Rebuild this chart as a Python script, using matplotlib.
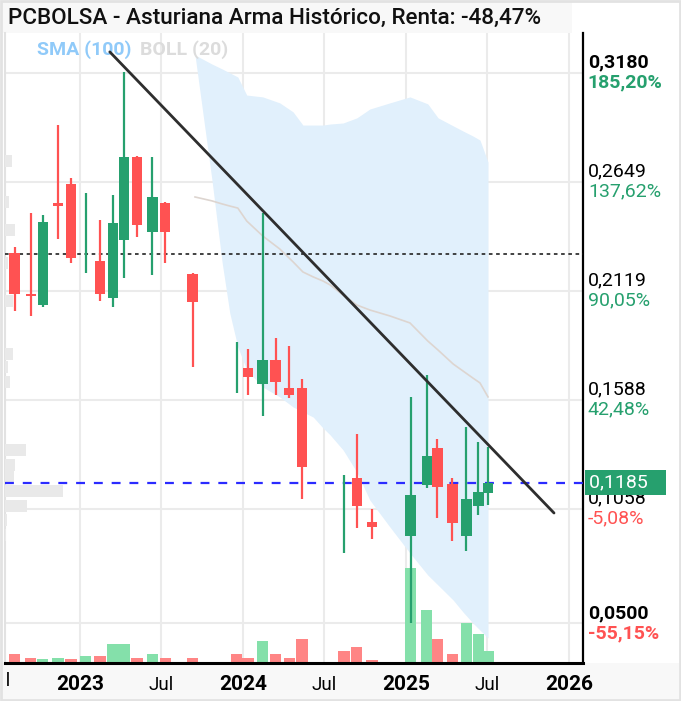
import matplotlib
matplotlib.use('Agg')
import matplotlib.pyplot as plt
import matplotlib.dates as mdates
from matplotlib.patches import Rectangle
from matplotlib.transforms import blended_transform_factory, Bbox, TransformedBbox
import numpy as np

plt.rcParams['font.family'] = ['Roboto', 'DejaVu Sans']

# ---------------- data ----------------
candle_dates = ['2022-08-07', '2022-09-12', '2022-10-09', '2022-11-12', '2022-12-11',
                '2023-01-13', '2023-02-14', '2023-03-15', '2023-04-09', '2023-05-08',
                '2023-06-11', '2023-07-10', '2023-09-10', '2023-12-18', '2024-01-12',
                '2024-02-14', '2024-03-14', '2024-04-13', '2024-05-12', '2024-08-14',
                '2024-09-12', '2024-10-16', '2025-01-11', '2025-02-16', '2025-03-11',
                '2025-04-14', '2025-05-15', '2025-06-11', '2025-07-03']
opens = [0.2302, 0.2103, 0.2049, 0.2546, 0.2638, 0.2285, 0.2264, 0.2083, 0.2366, 0.2770,
         0.2405, 0.2546, 0.2200, 0.1700, 0.1743, 0.1665, 0.1782, 0.1645, 0.1645, 0.1155,
         0.1207, 0.0993, 0.0925, 0.1173, 0.1353, 0.1178, 0.0925, 0.1071, 0.1134]
highs = [0.2332, 0.2497, 0.2487, 0.2925, 0.2667, 0.2595, 0.2463, 0.2585, 0.3183, 0.2775,
         0.2770, 0.2550, 0.2203, 0.1869, 0.1835, 0.2497, 0.1889, 0.1850, 0.1689, 0.1222,
         0.1421, 0.1056, 0.1602, 0.1709, 0.1397, 0.1207, 0.1456, 0.1383, 0.1358]
lows = [0.2020, 0.1996, 0.2040, 0.2371, 0.2254, 0.2205, 0.2069, 0.2040, 0.2181, 0.2380,
        0.2195, 0.2254, 0.1748, 0.1621, 0.1611, 0.1509, 0.1611, 0.1597, 0.1105, 0.0842,
        0.0964, 0.0910, 0.0502, 0.1159, 0.1013, 0.0901, 0.0852, 0.1027, 0.1076]
closes = [0.2103, 0.2093, 0.2453, 0.2531, 0.2278, 0.2285, 0.2103, 0.2448, 0.2770, 0.2439,
          0.2575, 0.2405, 0.2064, 0.1700, 0.1699, 0.1782, 0.1675, 0.1611, 0.1261, 0.1155,
          0.1071, 0.0969, 0.1125, 0.1314, 0.1163, 0.0988, 0.1105, 0.1139, 0.1185]
volumes = [9, 5, 4, 5, 4, 7, 7, 19, 19, 5, 9, 5, 5, 9, 5, 22, 9, 5, 24, 12, 16, 3,
           95, 53, 24, 9, 40, 29, 12]

band_dates = ['2023-09-15', '2023-10-23', '2023-11-15', '2023-12-02', '2023-12-20',
              '2024-01-09', '2024-02-14', '2024-03-23', '2024-04-22', '2024-05-14',
              '2024-06-06', '2024-06-28', '2024-07-14', '2024-08-12', '2024-09-12',
              '2024-10-11', '2024-11-25', '2025-01-09', '2025-02-18', '2025-03-13',
              '2025-04-16', '2025-05-08', '2025-05-30', '2025-06-15', '2025-07-03']
band_upper = [0.3266, 0.3222, 0.3198, 0.3179, 0.3159, 0.3071, 0.3062, 0.3033, 0.2989, 0.2925,
              0.2925, 0.2925, 0.2930, 0.2935, 0.2960, 0.3003, 0.3033, 0.3062, 0.3028, 0.2960,
              0.2921, 0.2896, 0.2872, 0.2852, 0.2745]
band_lower = [0.3266, 0.2658, 0.2254, 0.2010, 0.1845, 0.1733, 0.1650, 0.1602, 0.1553, 0.1529,
              0.1504, 0.1451, 0.1417, 0.1344, 0.1236, 0.1100, 0.0969, 0.0842, 0.0735, 0.0686,
              0.0613, 0.0555, 0.0502, 0.0467, 0.0429]
band_mid = [0.2575, 0.2556, 0.2541, 0.2531, 0.2521, 0.2458, 0.2385, 0.2322, 0.2259, 0.2210,
            0.2186, 0.2166, 0.2147, 0.2098, 0.2049, 0.2025, 0.1996, 0.1962, 0.1874, 0.1830,
            0.1762, 0.1728, 0.1694, 0.1670, 0.1602]

profile_prices = [0.2750, 0.2551, 0.2414, 0.2254, 0.2069, 0.1811, 0.1748, 0.1675,
                  0.1344, 0.1270, 0.1212, 0.1144, 0.1072, 0.1003, 0.0930]
profile_values = [7, 4, 10, 3, 8, 8, 3, 5, 21, 10, 9, 58, 22, 2, 1]

trend_dates = ['2023-03-08', '2025-11-28']
trend_prices = [0.3281, 0.1037]
support_level = 0.2297
last_price = 0.1185

level_prices = [0.3180, 0.2649, 0.2119, 0.1588, 0.1058, 0.0500]
level_pcts = [185.20, 137.62, 90.05, 42.48, -5.08, -55.15]

tick_dates = ['2023-01-01', '2023-07-01', '2024-01-01', '2024-07-01',
              '2025-01-01', '2025-07-01', '2026-01-01']
tick_labels = ['2023', 'Jul', '2024', 'Jul', '2025', 'Jul', '2026']
partial_tick_date = '2022-07-01'
partial_tick_label = 'Jul'

title = 'PCBOLSA - Asturiana Arma Histórico, Renta: -48,47%'

# ---------------- styles ----------------
GREEN = '#26a06e'
RED = '#ff5252'
VGREEN = '#84e0aa'
VRED = '#ff8585'
GRID = '#ebebeb'

W, H = 681, 701
fig = plt.figure(figsize=(W / 100, H / 100), dpi=100)
fig.patch.set_facecolor('white')

# background bands (behind axes)
fig.patches.append(Rectangle((2 / W, 1 - 33 / H), 570 / W, 31 / H, transform=fig.transFigure,
                             facecolor='#f8f8f8', edgecolor='none', zorder=-2))
fig.patches.append(Rectangle((2 / W, 2 / H), 677 / W, 36 / H, transform=fig.transFigure,
                             facecolor='#f8f8f8', edgecolor='none', zorder=-2))
fig.patches.append(Rectangle((1 / W, 1 / H), 679 / W, 699 / H, transform=fig.transFigure,
                             facecolor='none', edgecolor='#e2e2e2', lw=2, zorder=10))

pos = [5 / W, 38 / H, 578 / W, 630 / H]
xd = mdates.datestr2num
cd = xd(candle_dates)
xmin, xmax = xd('2022-07-16'), xd('2026-02-01')
ymin, ymax = 0.0307, 0.3373

# grid axes
axg = fig.add_axes(pos, zorder=0)
axg.set_xlim(xmin, xmax)
axg.set_ylim(ymin, ymax)
axg.set_facecolor('white')
for lv in level_prices:
    axg.axhline(lv, color=GRID, lw=1.5)
for td in xd(tick_dates):
    axg.axvline(td, color=GRID, lw=1.5)
axg.set_yticks([])
axg.set_xticks(xd(tick_dates))
axg.set_xticklabels(tick_labels)
axg.tick_params(axis='x', length=0, pad=9, labelsize=15, colors='black')
for lab in axg.get_xticklabels():
    if lab.get_text() == 'Jul':
        lab.set_fontsize(13.5)
        lab.set_fontweight('normal')
    else:
        lab.set_fontweight('bold')
for s in axg.spines.values():
    s.set_visible(False)
axg.spines['left'].set_visible(True)
axg.spines['left'].set_color('#e2e2e2')
axg.spines['left'].set_linewidth(1.5)
pt = axg.text(xd(partial_tick_date), -0.0145, partial_tick_label,
              transform=blended_transform_factory(axg.transData, axg.transAxes),
              ha='center', va='top', fontsize=13.5, clip_on=True)
pt.set_clip_box(TransformedBbox(Bbox([[5 / W, 0], [1, 1]]), fig.transFigure))

# volume profile
axp = fig.add_axes(pos, zorder=1)
axp.set_xlim(0, 578)
axp.set_ylim(ymin, ymax)
axp.barh(profile_prices, profile_values, height=0.0060, left=0, color='#e9e9e9')
axp.axis('off')

# volume axes
axv = fig.add_axes(pos, zorder=2)
axv.set_xlim(xmin, xmax)
axv.set_ylim(0, 630)
vcols = []
for i in range(len(closes)):
    ref = closes[i - 1] if i > 0 else opens[i]
    vcols.append(VGREEN if closes[i] >= ref else VRED)
axv.bar(cd, volumes, width=25, color=vcols, edgecolor='none')
axv.axis('off')

# main axes
ax = fig.add_axes(pos, zorder=3)
ax.patch.set_visible(False)
ax.set_xlim(xmin, xmax)
ax.set_ylim(ymin, ymax)
bd = xd(band_dates)
ax.fill_between(bd, band_lower, band_upper, color='#e1f0fc', lw=0, zorder=1)
ax.plot(bd, band_mid, color='#ddd5d0', lw=1.2, zorder=2)

ax.axhline(support_level, color='#333333', lw=1.3, ls=(0, (2, 2)), zorder=3)
ax.axhline(last_price, color='#2b2bff', lw=1.6, ls=(0, (4, 4)), zorder=3)

o = np.array(opens); c = np.array(closes)
cols = [GREEN if cc >= oo else RED for oo, cc in zip(o, c)]
ax.vlines(cd, lows, highs, colors=cols, lw=1.6, zorder=4)
ax.bar(cd, np.abs(c - o), bottom=np.minimum(o, c), width=24, color=cols,
       edgecolor='none', zorder=5)

ax.plot(xd(trend_dates), trend_prices, color='#2e2e2e', lw=2, zorder=6,
        solid_capstyle='round')

ax.set_xticks([]); ax.set_yticks([])
for k in ('top', 'left'):
    ax.spines[k].set_visible(False)
ax.spines['right'].set_color('black'); ax.spines['right'].set_linewidth(1.6)
ax.spines['bottom'].set_color('black'); ax.spines['bottom'].set_linewidth(2.2)

# right labels
trans = blended_transform_factory(ax.transAxes, ax.transData)
for i, (lv, pc) in enumerate(zip(level_prices, level_pcts)):
    bold = i in (0, len(level_prices) - 1)
    ax.annotate(f'{lv:.4f}'.replace('.', ','), xy=(1, lv), xycoords=trans,
                xytext=(3.5, 1.0), textcoords='offset points', ha='left', va='bottom',
                fontsize=14, fontweight='bold' if bold else 'normal', color='black',
                annotation_clip=False)
    ax.annotate(f'{pc:.2f}%'.replace('.', ','), xy=(1, lv), xycoords=trans,
                xytext=(3.5, -0.5), textcoords='offset points', ha='left', va='top',
                fontsize=14, fontweight='bold' if bold else 'normal',
                color=GREEN if pc >= 0 else RED, annotation_clip=False)

ax.annotate(f'{last_price:.4f}'.replace('.', ',') + '   ', xy=(1, last_price), xycoords=trans,
            xytext=(4, 0), textcoords='offset points', ha='left', va='center',
            fontsize=14, color='white', annotation_clip=False,
            bbox=dict(boxstyle='square,pad=0.2', fc=GREEN, ec='none'), zorder=8)

# legend texts
ax.text(32 / 578, 1 - 17 / 630, 'SMA (100)', transform=ax.transAxes, fontsize=14,
        fontweight='bold', color='#90caf9', va='center', ha='left')
ax.text(135 / 578, 1 - 17 / 630, 'BOLL (20)', transform=ax.transAxes, fontsize=14,
        fontweight='bold', color='#dcdcdc', va='center', ha='left')

fig.text(8 / W, 1 - 18 / H, title, fontsize=16.2, fontweight='medium', color='#111111',
         ha='left', va='center')

fig.savefig('out.png', dpi=100)
